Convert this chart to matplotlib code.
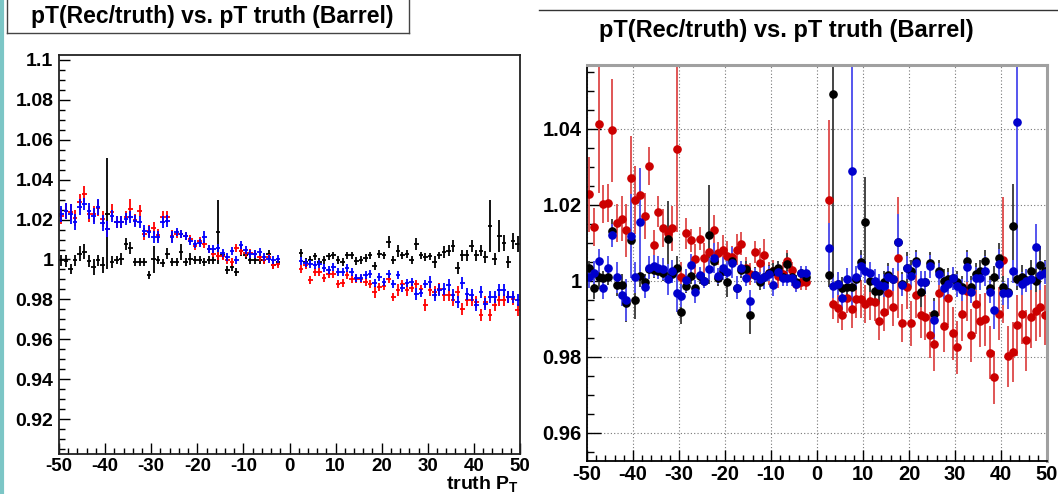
import numpy as np
import matplotlib
matplotlib.use("Agg")
import matplotlib.pyplot as plt
from matplotlib.ticker import MultipleLocator, FuncFormatter
from matplotlib.lines import Line2D

plt.rcParams['font.family'] = ['Liberation Sans', 'DejaVu Sans']
plt.rcParams['font.weight'] = 'bold'
plt.rcParams['mathtext.fontset'] = 'custom'
plt.rcParams['mathtext.bf'] = 'Liberation Sans:bold'
plt.rcParams['mathtext.default'] = 'bf'

# 1 GeV wide bins, nothing filled for |pT| < 2
pt_bins = np.r_[np.arange(-49.5, -2.0), np.arange(2.5, 50.0)]

# ---- left canvas: ratio per bin (black / red / blue samples)
left_black = [
    0.9995, 0.999, 0.9953, 0.9995, 1.003, 1.004, 0.999, 0.996, 0.9995, 0.997,
    1.023, 0.9987, 0.9995, 1.0003, 1.0078, 1.006, 0.9987, 0.9987, 0.9987, 0.992,
    1.0, 0.9995, 0.998, 1.003, 0.9987, 0.9987, 1.0037, 0.9987, 1.0003, 0.9995,
    0.9995, 0.9987, 0.9995, 0.9995, 1.0137, 1.002, 0.9945, 0.996, 0.9937, 1.0045,
    1.002, 0.9995, 0.9995, 0.9995, 0.9995, 1.003, 0.997, 0.9987,
    1.0032, 0.9987, 0.9995, 1.0015, 0.9987, 0.9998, 1.0015, 1.002, 0.9998, 0.9987,
    1.002, 1.002, 0.9992, 0.9998, 1.0008, 1.002, 0.9965, 1.0028, 1.002, 1.0087,
    0.9998, 1.0042, 1.002, 1.0028, 0.9998, 1.0078, 1.002, 1.0012, 1.0015, 0.9987,
    1.002, 1.0037, 1.0045, 1.007, 0.9958, 1.002, 1.002, 1.007, 1.002, 1.0045,
    1.0012, 1.017, 1.0003, 1.012, 1.0085, 0.9987, 1.0095, 1.008]
left_black_err = [
    0.003, 0.003, 0.0025, 0.003, 0.004, 0.004, 0.003, 0.004, 0.003, 0.004,
    0.028, 0.003, 0.002, 0.003, 0.003, 0.003, 0.002, 0.002, 0.002, 0.002,
    0.007, 0.002, 0.002, 0.003, 0.002, 0.002, 0.004, 0.002, 0.003, 0.002,
    0.002, 0.002, 0.002, 0.002, 0.016, 0.002, 0.002, 0.002, 0.002, 0.003,
    0.002, 0.002, 0.002, 0.002, 0.002, 0.002, 0.002, 0.002,
    0.002, 0.002, 0.002, 0.002, 0.002, 0.002, 0.002, 0.002, 0.002, 0.002,
    0.002, 0.002, 0.002, 0.002, 0.002, 0.002, 0.002, 0.002, 0.002, 0.003,
    0.002, 0.003, 0.002, 0.002, 0.002, 0.003, 0.002, 0.002, 0.002, 0.003,
    0.002, 0.003, 0.003, 0.003, 0.003, 0.003, 0.003, 0.003, 0.003, 0.003,
    0.003, 0.013, 0.003, 0.008, 0.004, 0.003, 0.004, 0.004]

left_red = [
    1.022, 1.0245, 1.024, 1.021, 1.0287, 1.0328, 1.023, 1.023, 1.026, 1.0203,
    1.0153, 1.0237, 1.019, 1.0187, 1.0212, 1.0253, 1.02, 1.0245, 1.0128, 1.0145,
    1.016, 1.0125, 1.0212, 1.0215, 1.012, 1.013, 1.0128, 1.012, 1.0103, 1.007,
    1.0095, 1.008, 1.0053, 1.003, 1.0018, 1.0015, 0.9998, 0.9987, 1.006, 1.0045,
    1.0033, 1.0033, 1.003, 1.0012, 0.9998, 1.001, 0.997, 0.9975,
    0.9953, 0.997, 0.9895, 0.9937, 0.9937, 0.9908, 0.9925, 0.9925, 0.9875, 0.9882,
    0.992, 0.9903, 0.9903, 0.9903, 0.9887, 0.9878, 0.9837, 0.9862, 0.9865, 0.9903,
    0.981, 0.9845, 0.9875, 0.9845, 0.9858, 0.9878, 0.9853, 0.977, 0.9845, 0.9837,
    0.9853, 0.982, 0.982, 0.9798, 0.9837, 0.9753, 0.9795, 0.9795, 0.9787, 0.972,
    0.9787, 0.972, 0.977, 0.9798, 0.9795, 0.9812, 0.9803, 0.9745]
left_red_err = [
    0.004, 0.004, 0.004, 0.004, 0.004, 0.004, 0.004, 0.004, 0.004, 0.004,
    0.004, 0.004, 0.003, 0.003, 0.003, 0.005, 0.003, 0.003, 0.003, 0.003,
    0.003, 0.003, 0.003, 0.003, 0.003, 0.002, 0.002, 0.002, 0.002, 0.002,
    0.002, 0.002, 0.002, 0.002, 0.002, 0.002, 0.002, 0.002, 0.002, 0.002,
    0.002, 0.002, 0.002, 0.002, 0.002, 0.002, 0.002, 0.002,
    0.002, 0.002, 0.002, 0.002, 0.002, 0.002, 0.002, 0.002, 0.002, 0.002,
    0.002, 0.002, 0.002, 0.002, 0.002, 0.002, 0.003, 0.002, 0.002, 0.002,
    0.002, 0.003, 0.002, 0.003, 0.002, 0.002, 0.002, 0.003, 0.003, 0.003,
    0.003, 0.003, 0.003, 0.003, 0.003, 0.003, 0.003, 0.003, 0.003, 0.003,
    0.003, 0.003, 0.003, 0.003, 0.003, 0.003, 0.003, 0.003]

left_blue = [
    1.0228, 1.0245, 1.0228, 1.0187, 1.0262, 1.0278, 1.0245, 1.022, 1.0262, 1.0182,
    1.0153, 1.022, 1.0187, 1.0187, 1.0203, 1.0212, 1.0195, 1.0187, 1.0145, 1.0137,
    1.0112, 1.0112, 1.0187, 1.0192, 1.0112, 1.0137, 1.0128, 1.012, 1.0095, 1.0078,
    1.0082, 1.0112, 1.0053, 1.0053, 1.0058, 1.0033, 1.0012, 1.0045, 0.9995, 1.0075,
    1.0048, 1.0028, 1.0028, 1.0037, 1.0012, 1.0003, 0.9995, 1.0,
    0.9992, 0.9982, 0.9978, 0.997, 0.9978, 0.9958, 0.9948, 0.9962, 0.9937, 0.9937,
    0.9958, 0.9937, 0.9907, 0.9907, 0.992, 0.9928, 0.9882, 0.9912, 0.9887, 0.9928,
    0.9878, 0.992, 0.9858, 0.9882, 0.9887, 0.9828, 0.9832, 0.9878, 0.9887, 0.982,
    0.9845, 0.9853, 0.987, 0.982, 0.9787, 0.9882, 0.9828, 0.982, 0.977, 0.9837,
    0.9778, 0.9812, 0.9812, 0.9848, 0.9845, 0.9812, 0.981, 0.9795]
left_blue_err = [
    0.004, 0.004, 0.005, 0.004, 0.004, 0.003, 0.004, 0.004, 0.004, 0.004,
    0.004, 0.003, 0.003, 0.003, 0.003, 0.003, 0.003, 0.003, 0.003, 0.003,
    0.003, 0.003, 0.003, 0.003, 0.003, 0.002, 0.002, 0.002, 0.002, 0.002,
    0.002, 0.003, 0.002, 0.002, 0.002, 0.002, 0.002, 0.002, 0.002, 0.002,
    0.002, 0.002, 0.002, 0.002, 0.002, 0.002, 0.002, 0.002,
    0.002, 0.002, 0.002, 0.002, 0.002, 0.002, 0.002, 0.002, 0.002, 0.002,
    0.002, 0.002, 0.002, 0.002, 0.002, 0.002, 0.002, 0.002, 0.002, 0.002,
    0.002, 0.002, 0.002, 0.002, 0.002, 0.003, 0.002, 0.002, 0.003, 0.003,
    0.003, 0.003, 0.003, 0.003, 0.003, 0.003, 0.003, 0.003, 0.003, 0.003,
    0.003, 0.003, 0.003, 0.003, 0.003, 0.003, 0.003, 0.003]

# ---- right canvas
right_black = [
    1.0033, 0.9982, 1.0009, 1.0007, 1.001, 1.0132, 0.9989, 0.9989, 0.9943, 1.0107,
    0.9949, 1.0013, 0.9998, 1.0031, 1.0028, 1.0026, 1.002, 1.0111, 1.0019, 1.0035,
    0.9917, 0.9987, 1.0013, 0.9981, 1.0013, 1.0, 1.0121, 1.0053, 1.0007, 1.0026,
    0.9998, 1.0051, 0.9982, 1.0028, 1.0032, 0.991, 1.0016, 0.9996, 1.0009, 1.0022,
    1.0026, 1.0033, 1.0009, 1.0044, 1.0009, 0.9996, 1.002, 1.0009,
    1.0015, 1.0493, 0.9993, 0.9981, 0.9984, 0.9984, 1.0005, 1.005, 1.0154, 1.0,
    0.9974, 0.9974, 0.9996, 1.0016, 1.0004, 1.0103, 0.9993, 1.0035, 1.0026, 1.0051,
    0.9972, 0.9996, 1.0046, 0.9914, 1.0026, 1.0, 1.0004, 1.0007, 0.9996, 0.9984,
    1.0051, 0.9984, 1.0018, 1.0026, 1.0051, 0.9982, 1.0009, 1.006, 0.9984, 0.9972,
    1.0145, 1.0005, 1.0011, 1.0002, 1.0026, 1.0, 1.0042, 1.0026]
right_black_err = [
    0.002, 0.003, 0.003, 0.002, 0.002, 0.003, 0.003, 0.003, 0.005, 0.003,
    0.005, 0.003, 0.002, 0.002, 0.002, 0.002, 0.002, 0.010, 0.002, 0.003,
    0.003, 0.002, 0.002, 0.002, 0.002, 0.002, 0.013, 0.002, 0.002, 0.002,
    0.004, 0.002, 0.002, 0.002, 0.002, 0.005, 0.002, 0.002, 0.002, 0.002,
    0.002, 0.002, 0.002, 0.003, 0.002, 0.002, 0.002, 0.002,
    0.003, 0.049, 0.003, 0.003, 0.003, 0.003, 0.003, 0.003, 0.012, 0.003,
    0.003, 0.003, 0.003, 0.003, 0.003, 0.003, 0.003, 0.004, 0.003, 0.003,
    0.004, 0.003, 0.003, 0.004, 0.003, 0.003, 0.003, 0.003, 0.003, 0.003,
    0.003, 0.003, 0.003, 0.003, 0.003, 0.003, 0.003, 0.004, 0.003, 0.003,
    0.011, 0.003, 0.003, 0.003, 0.003, 0.003, 0.005, 0.003]

right_red = [
    1.0228, 1.0142, 1.0412, 1.0202, 1.0204, 1.0396, 1.0152, 1.0164, 1.0133, 1.0270,
    1.0212, 1.0225, 1.0170, 1.0303, 1.0095, 1.0182, 1.0138, 1.0125, 1.0138, 1.0348,
    1.0010, 1.0125, 1.0107, 1.0057, 1.0111, 1.0060, 1.0075, 1.0133, 1.0072, 1.0081,
    1.0065, 1.0063, 1.0082, 1.0098, 1.0033, 1.0018, 1.0076, 1.0046, 1.0069, 1.0020,
    1.0026, 1.0012, 1.0019, 1.0051, 1.0029, 0.9993, 0.9997, 0.9997,
    1.0212, 0.994, 0.9928, 0.991, 0.9956, 0.9927, 0.9952, 0.9952, 0.994, 0.9946,
    0.9945, 0.9895, 0.9919, 0.9969, 0.9932, 1.0061, 0.989, 0.9985, 0.9888, 0.9962,
    0.991, 0.9904, 0.9858, 0.9833, 0.9968, 0.9882, 0.9954, 0.9862, 0.9825, 0.9912,
    0.9974, 0.9857, 0.9939, 0.9895, 0.9899, 0.9811, 0.9746, 0.9914, 1.0055, 0.9801,
    0.9813, 0.9883, 0.9914, 0.9844, 0.9904, 0.9921, 0.9932, 0.991]
right_red_err = [
    0.0099, 0.005, 0.018, 0.005, 0.005, 0.0135, 0.005, 0.006, 0.007, 0.011,
    0.009, 0.007, 0.006, 0.005, 0.004, 0.004, 0.005, 0.004, 0.006, 0.022,
    0.004, 0.004, 0.003, 0.004, 0.003, 0.004, 0.003, 0.004, 0.003, 0.004,
    0.004, 0.003, 0.004, 0.003, 0.003, 0.003, 0.003, 0.004, 0.004, 0.003,
    0.003, 0.003, 0.003, 0.003, 0.002, 0.002, 0.002, 0.002,
    0.021, 0.004, 0.004, 0.004, 0.004, 0.005, 0.005, 0.005, 0.005, 0.005,
    0.005, 0.005, 0.005, 0.006, 0.005, 0.016, 0.005, 0.006, 0.006, 0.006,
    0.006, 0.006, 0.006, 0.007, 0.006, 0.007, 0.007, 0.007, 0.007, 0.007,
    0.008, 0.007, 0.008, 0.007, 0.007, 0.007, 0.007, 0.007, 0.0165, 0.008,
    0.008, 0.008, 0.008, 0.008, 0.008, 0.008, 0.008, 0.008]

right_blue = [
    1.001, 1.0022, 1.0053, 0.9982, 1.0035, 1.012, 1.0009, 0.9963, 0.9949, 1.0118,
    1.0009, 1.0156, 0.9984, 1.0035, 1.0039, 1.0035, 1.0031, 1.0004, 1.0025, 0.9969,
    0.9961, 1.0002, 1.0041, 0.9972, 1.0016, 1.0, 1.0031, 1.006, 1.0013, 1.0033,
    1.0024, 1.0048, 0.9982, 1.0033, 1.0007, 0.9946, 1.0015, 1.0004, 1.0009, 1.0019,
    0.9989, 1.0024, 1.0007, 1.0007, 1.0007, 0.9991, 1.002, 1.002,
    1.0086, 0.9986, 0.9993, 0.9954, 1.0004, 1.029, 1.001, 1.0039, 1.0025, 1.002,
    1.0, 0.9989, 0.9987, 1.0009, 1.0004, 1.0101, 0.9989, 1.0035, 1.0013, 1.0046,
    0.9996, 0.9996, 1.0038, 0.9896, 1.0018, 0.9982, 0.9993, 1.0007, 0.9987, 0.9976,
    1.0037, 0.9972, 1.0007, 1.0007, 1.0026, 0.9972, 0.9923, 1.0044, 0.9967, 0.9967,
    1.0025, 1.0417, 0.9993, 1.0, 1.0005, 1.009, 1.0015, 1.0021]
right_blue_err = [
    0.003, 0.003, 0.003, 0.003, 0.003, 0.003, 0.004, 0.003, 0.0055, 0.011,
    0.004, 0.014, 0.003, 0.003, 0.003, 0.003, 0.003, 0.004, 0.003, 0.005,
    0.003, 0.003, 0.003, 0.003, 0.002, 0.002, 0.003, 0.004, 0.002, 0.003,
    0.003, 0.004, 0.003, 0.002, 0.002, 0.003, 0.002, 0.002, 0.003, 0.002,
    0.003, 0.002, 0.002, 0.002, 0.002, 0.002, 0.002, 0.002,
    0.0065, 0.003, 0.003, 0.003, 0.003, 0.037, 0.003, 0.003, 0.003, 0.003,
    0.003, 0.003, 0.003, 0.003, 0.003, 0.0075, 0.003, 0.003, 0.003, 0.003,
    0.003, 0.003, 0.003, 0.005, 0.003, 0.003, 0.003, 0.003, 0.003, 0.003,
    0.004, 0.003, 0.003, 0.003, 0.004, 0.003, 0.005, 0.004, 0.003, 0.004,
    0.003, 0.043, 0.003, 0.003, 0.003, 0.006, 0.004, 0.003]

title = "pT(Rec/truth) vs. pT truth (Barrel)"
W, H = 1058, 494


def fmt_tick(v, pos):
    return '%g' % round(v, 4)


def root_axes(ax, ymin, ymax, ylen, ysize, xsize):
    ax.set_xlim(-50, 50)
    ax.set_ylim(ymin, ymax)
    ax.xaxis.set_major_locator(MultipleLocator(10))
    ax.xaxis.set_minor_locator(MultipleLocator(2))
    ax.yaxis.set_major_locator(MultipleLocator(0.02))
    ax.yaxis.set_minor_locator(MultipleLocator(0.005))
    ax.xaxis.set_major_formatter(FuncFormatter(fmt_tick))
    ax.yaxis.set_major_formatter(FuncFormatter(fmt_tick))
    ax.tick_params(which='both', direction='in', top=False, right=False,
                   width=1.0, color='black')
    ax.tick_params(axis='x', which='major', length=8, pad=3,
                   labelsize=xsize)
    ax.tick_params(axis='x', which='minor', length=4)
    ax.tick_params(axis='y', which='major', length=ylen, pad=4,
                   labelsize=ysize)
    ax.tick_params(axis='y', which='minor', length=ylen / 2)
    for lab in ax.get_xticklabels() + ax.get_yticklabels():
        lab.set_fontweight('bold')


fig = plt.figure(figsize=(W / 100, H / 100), dpi=100)

# left canvas: crosses (bin width x error)
ax1 = fig.add_axes([59 / W, 1 - 454 / H, 461 / W, 399 / H])
for vals, errs, col in [(left_black, left_black_err, 'black'),
                        (left_red, left_red_err, '#ff0000'),
                        (left_blue, left_blue_err, '#0000ff')]:
    ax1.errorbar(pt_bins, vals, xerr=0.5, yerr=errs, fmt='none',
                 ecolor=col, elinewidth=1.3, capsize=0)
root_axes(ax1, 0.9025, 1.1025, 8, 14, 13.5)
for s in ax1.spines.values():
    s.set_linewidth(1.3)
    s.set_color('#222222')

# right canvas: filled circles, grid
ax2 = fig.add_axes([587 / W, 1 - 461 / H, 460 / W, 396 / H])
for vals, errs, col, ecol in [(right_red, right_red_err, '#cc0000', '#e05555'),
                              (right_black, right_black_err, 'black', '#444444'),
                              (right_blue, right_blue_err, '#0000cc', '#5555ee')]:
    ax2.errorbar(pt_bins, vals, yerr=errs, fmt='o', ms=5.2, color=col,
                 mec=col, ecolor=ecol, elinewidth=1.4, capsize=0)
root_axes(ax2, 0.9526, 1.0568, 10, 14.5, 14.5)
ax2.grid(True, which='major', linestyle=(0, (1, 2)), color='#777777', lw=0.8)
ax2.spines['top'].set_color('#a0a0a0')
ax2.spines['right'].set_color('#a0a0a0')
ax2.spines['top'].set_linewidth(2.2)
ax2.spines['right'].set_linewidth(2.2)
ax2.spines['left'].set_linewidth(1.3)
ax2.spines['bottom'].set_linewidth(1.3)

# canvas decorations
fig.add_artist(Line2D([2 / W, 2 / W], [0, 1], color='#7cc6c6', lw=3))
box_col = '#444444'
fig.add_artist(Line2D([7 / W, 7 / W], [1, 1 - 33 / H], color=box_col, lw=1))
fig.add_artist(Line2D([7 / W, 409 / W], [1 - 33 / H, 1 - 33 / H], color=box_col, lw=1))
fig.add_artist(Line2D([409 / W, 409 / W], [1, 1 - 33 / H], color=box_col, lw=1))
fig.add_artist(Line2D([539 / W, 1], [1 - 10 / H, 1 - 10 / H], color='#333333', lw=1))

fig.text(212 / W, 1 - 17 / H, title, ha='center', va='center',
         fontsize=16.5, fontweight='bold')
fig.text(786 / W, 1 - 30 / H, title, ha='center', va='center',
         fontsize=17, fontweight='bold')
fig.text(519 / W, 1 - 489 / H, 'truth P$_{T}$', ha='right', va='baseline',
         fontsize=14, fontweight='bold')

fig.savefig('out.png', dpi=100)
